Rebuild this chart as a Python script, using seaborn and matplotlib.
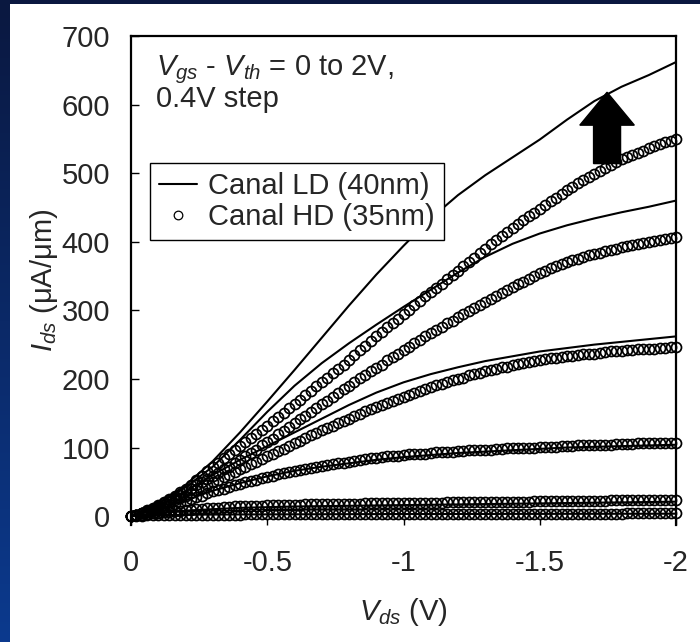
import numpy as np
import pandas as pd
import matplotlib
matplotlib.use("Agg")
import matplotlib.pyplot as plt
import seaborn as sns
from matplotlib.lines import Line2D
from matplotlib.patches import Rectangle

# --- Data ---
# Vgs - Vth = 0, 0.4, 0.8, 1.2, 1.6, 2.0 V
VGS_STEPS = [0.0, 0.4, 0.8, 1.2, 1.6, 2.0]

# Canal LD (40nm): solid lines, Vds = 0 .. -2 V step 0.1 V
VDS_LD = [-0.1 * i for i in range(21)]
LD_0 = [0, 1.5, 2, 2.2, 2.4, 2.5, 2.6, 2.7, 2.8, 2.9, 3, 3, 3.1, 3.1, 3.2, 3.2, 3.3, 3.3, 3.4, 3.4, 3.5]
LD_1 = [0, 4, 8, 10, 12, 13, 14, 14.5, 15, 15.5, 16, 16.5, 17, 17.5, 18, 18.5, 19, 19.5, 20, 20.5, 21]
LD_2 = [0, 10, 23, 37, 48, 58, 66, 72, 77, 82, 86, 89, 92, 94, 96, 98, 100, 101, 102, 103, 104]
LD_3 = [0, 15, 36, 60, 82, 102, 122, 142, 162, 180, 195, 207, 217, 226, 233, 240, 245, 250, 254, 258, 262]
LD_4 = [0, 18, 42, 72, 111, 152, 190, 223, 252, 279, 305, 330, 355, 378, 397, 412, 424, 434, 443, 451, 460]
LD_5 = [0, 18, 45, 80, 122, 167, 213, 260, 307, 352, 394, 434, 468, 497, 523, 549, 578, 605, 626, 643, 662]

# Canal HD (35nm): open circles, Vds = 0 .. -2 V step 0.02 V
VDS_HD = [-0.02 * i for i in range(101)]
HD_0 = [0, 0.3, 0.6, 0.9, 1.1, 1.3, 1.5, 1.6, 1.7, 1.8,
        1.9, 2, 2, 2.1, 2.1, 2.2, 2.2, 2.2, 2.3, 2.3,
        2.3, 2.4, 2.4, 2.4, 2.4, 2.5, 2.5, 2.5, 2.5, 2.6,
        2.6, 2.6, 2.6, 2.6, 2.7, 2.7, 2.7, 2.7, 2.7, 2.8,
        2.8, 2.8, 2.8, 2.8, 2.8, 2.9, 2.9, 2.9, 2.9, 2.9,
        3, 3, 3, 3, 3, 3, 3.1, 3.1, 3.1, 3.1,
        3.1, 3.2, 3.2, 3.2, 3.2, 3.2, 3.3, 3.3, 3.3, 3.3,
        3.3, 3.4, 3.4, 3.4, 3.4, 3.4, 3.5, 3.5, 3.5, 3.5,
        3.5, 3.6, 3.6, 3.6, 3.6, 3.6, 3.7, 3.7, 3.7, 3.7,
        3.7, 3.8, 3.8, 3.8, 3.8, 3.8, 3.9, 3.9, 3.9, 3.9,
        4]
HD_1 = [0, 1, 2, 3, 4, 5, 6, 6.5, 7.5, 8,
        9, 9.5, 10, 11, 11.5, 12, 12.5, 13, 13.5, 14,
        14, 14.5, 14.5, 15, 15, 15.5, 15.5, 16, 16, 16.5,
        16.5, 16.5, 17, 17, 17, 17, 17.5, 17.5, 17.5, 18,
        18, 18, 18, 18.5, 18.5, 18.5, 18.5, 18.5, 19, 19,
        19, 19, 19, 19.5, 19.5, 19.5, 19.5, 19.5, 20, 20,
        20, 20, 20, 20, 20.5, 20.5, 20.5, 20.5, 21, 21,
        21, 21, 21, 21, 21.5, 21.5, 21.5, 21.5, 22, 22,
        22, 22, 22, 22, 22.5, 22.5, 22.5, 22.5, 23, 23,
        23, 23, 23, 23, 23.5, 23.5, 23.5, 23.5, 24, 24,
        24]
HD_2 = [0, 2, 4, 6, 8, 10, 12, 14, 17, 19,
        22, 25, 28, 30, 33, 36, 38, 40, 43, 45,
        47, 49, 51, 53, 55, 57, 59, 61, 63, 64,
        66, 67, 69, 70, 72, 73, 74, 76, 77, 78,
        79, 80, 82, 83, 84, 85, 86, 87, 87, 88,
        89, 90, 90, 91, 91, 92, 93, 93, 94, 94,
        95, 95, 96, 96, 97, 97, 97, 98, 98, 99,
        99, 99, 100, 100, 100, 101, 101, 101, 101, 102,
        102, 102, 103, 103, 103, 104, 104, 104, 104, 105,
        105, 105, 105, 106, 106, 106, 106, 106, 107, 107,
        107]
HD_3 = [0, 2, 4, 7, 10, 13, 16, 20, 23, 27,
        30, 34, 38, 41, 45, 49, 53, 57, 60, 64,
        68, 72, 76, 79, 83, 87, 91, 95, 98, 102,
        106, 110, 114, 118, 121, 125, 129, 132, 136, 139,
        142, 146, 149, 153, 156, 159, 162, 165, 168, 171,
        174, 177, 180, 182, 185, 188, 191, 193, 196, 198,
        200, 202, 205, 207, 209, 211, 213, 215, 217, 218,
        220, 222, 223, 225, 226, 227, 229, 230, 231, 232,
        233, 234, 235, 236, 236, 237, 238, 239, 240, 240,
        241, 242, 242, 243, 243, 244, 244, 245, 245, 246,
        246]
HD_4 = [0, 2, 5, 8, 11, 15, 19, 23, 27, 31,
        36, 40, 45, 49, 54, 58, 63, 68, 72, 77,
        82, 87, 92, 97, 103, 108, 113, 119, 124, 130,
        135, 141, 146, 152, 157, 163, 168, 174, 179, 185,
        190, 195, 201, 206, 211, 216, 221, 227, 232, 237,
        242, 247, 252, 257, 262, 267, 272, 276, 281, 285,
        290, 294, 299, 303, 308, 312, 316, 321, 325, 330,
        334, 338, 342, 346, 350, 354, 357, 361, 364, 367,
        370, 373, 375, 378, 380, 382, 384, 386, 388, 390,
        392, 394, 395, 397, 398, 400, 401, 403, 404, 406,
        407]
HD_5 = [0, 2, 5, 9, 12, 16, 20, 25, 30, 35,
        40, 46, 53, 59, 66, 72, 78, 84, 90, 96,
        102, 108, 114, 120, 126, 132, 138, 144, 150, 157,
        163, 169, 176, 182, 189, 195, 202, 208, 215, 221,
        228, 235, 242, 248, 255, 262, 268, 275, 282, 288,
        295, 301, 308, 314, 321, 327, 333, 339, 346, 352,
        358, 364, 371, 377, 384, 390, 396, 402, 408, 414,
        420, 426, 431, 437, 442, 448, 453, 459, 464, 470,
        475, 480, 485, 490, 494, 499, 503, 508, 512, 516,
        520, 523, 527, 530, 533, 536, 539, 542, 545, 547,
        550]

LD_CURVES = [LD_0, LD_1, LD_2, LD_3, LD_4, LD_5]
HD_CURVES = [HD_0, HD_1, HD_2, HD_3, HD_4, HD_5]

X_TICKS = [0, -0.5, -1, -1.5, -2]
X_TICK_LABELS = ['0', '-0.5', '-1', '-1.5', '-2']
Y_TICKS = [0, 100, 200, 300, 400, 500, 600, 700]

# --- Data frames (long form) ---
df_ld = pd.concat([pd.DataFrame({'Vds': VDS_LD, 'Ids': c, 'Vgs': v})
                   for c, v in zip(LD_CURVES, VGS_STEPS)], ignore_index=True)
df_hd = pd.concat([pd.DataFrame({'Vds': VDS_HD, 'Ids': c, 'Vgs': v})
                   for c, v in zip(HD_CURVES, VGS_STEPS)], ignore_index=True)

# --- Style ---
sns.set_theme(style="white")
plt.rcParams['font.family'] = ['Liberation Sans', 'DejaVu Sans']
plt.rcParams['mathtext.fontset'] = 'custom'
plt.rcParams['mathtext.rm'] = 'Liberation Sans'
plt.rcParams['mathtext.it'] = 'Liberation Sans:italic'
plt.rcParams['axes.unicode_minus'] = False

FS = 21
MS = 7.2   # circle size
MEW = 1.25

fig = plt.figure(figsize=(7.0, 6.42), dpi=100)

# slide background: navy frame with blue gradient on the left, white panel
bg = fig.add_axes([0, 0, 1, 1], zorder=-10)
grad = np.linspace(0, 1, 256).reshape(-1, 1)
cmap = matplotlib.colors.LinearSegmentedColormap.from_list('bg', ['#0a1840', '#0c3a8e'])
bg.imshow(grad, aspect='auto', cmap=cmap, extent=[0, 1, 0, 1], origin='upper')
bg.add_patch(Rectangle((10 / 700, 0), 1, 1 - 4 / 642, transform=bg.transAxes,
                       facecolor='white', edgecolor='none'))
bg.set_xlim(0, 1)
bg.set_ylim(0, 1)
bg.axis('off')

ax = fig.add_axes([131 / 700, 1 - 525 / 642, 545 / 700, 489 / 642])
ax.patch.set_alpha(0)

# circles (HD) first, lines (LD) on top
for v in VGS_STEPS:
    sub = df_hd[df_hd['Vgs'] == v]
    sns.lineplot(data=sub, x='Vds', y='Ids', ax=ax, estimator=None, sort=False,
                 linestyle='', marker='o', markersize=MS, markerfacecolor='none',
                 markeredgecolor='black', markeredgewidth=MEW, color='black',
                 clip_on=False)
for v in VGS_STEPS:
    sub = df_ld[df_ld['Vgs'] == v]
    sns.lineplot(data=sub, x='Vds', y='Ids', ax=ax, estimator=None, sort=False,
                 color='black', linewidth=1.5)

ax.set_xlim(0, -2)
ax.set_ylim(-13, 700)
ax.set_xticks(X_TICKS)
ax.set_xticklabels(X_TICK_LABELS)
ax.set_yticks(Y_TICKS)

for side in ['left', 'top', 'right']:
    ax.spines[side].set_visible(True)
    ax.spines[side].set_color('black')
    ax.spines[side].set_linewidth(1.6)
ax.spines['bottom'].set_visible(False)

ax.tick_params(axis='y', direction='in', length=6, width=1, color='black',
               labelsize=FS, pad=15, left=True, right=False)
ax.tick_params(axis='x', direction='in', length=4, width=1, color='black',
               labelsize=FS, pad=17, bottom=True, top=False)

ax.set_xlabel(r'$V_{ds}$ (V)', fontsize=FS, labelpad=14)
ax.set_ylabel(r'$I_{ds}$ ($\mathrm{\mu}$A/$\mathrm{\mu}$m)', fontsize=FS, labelpad=1)

ax.text(0.045, 0.965, r'$V_{gs}$ - $V_{th}$ = 0 to 2V,' + '\n0.4V step',
        transform=ax.transAxes, ha='left', va='top', fontsize=FS, linespacing=0.95)

# arrow (increasing Vgs)
ax.arrow(-1.747, 514, 0, 104, width=0.099, head_width=0.2, head_length=48,
         length_includes_head=True, fc='black', ec='black', zorder=4)

handles = [Line2D([], [], color='black', linewidth=1.5),
           Line2D([], [], linestyle='', marker='o', markersize=6.2,
                  markerfacecolor='none', markeredgecolor='black', markeredgewidth=0.9)]
leg = ax.legend(handles, ['Canal LD (40nm)', 'Canal HD (35nm)'], loc='upper left',
                bbox_to_anchor=(0.035, 0.74), borderaxespad=0, fontsize=FS,
                handlelength=1.3, handletextpad=0.4, borderpad=0.3,
                labelspacing=0.12, frameon=True, fancybox=False)
leg.get_frame().set_edgecolor('black')
leg.get_frame().set_linewidth(1.0)
leg.get_frame().set_facecolor('white')
leg.get_frame().set_alpha(1)

fig.savefig('out.png', dpi=100)
